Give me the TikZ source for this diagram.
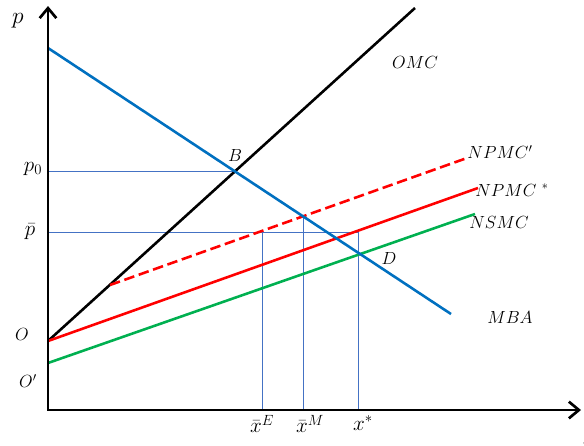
\RequirePackage{fix-cm}
\documentclass[tikz,border=0pt]{standalone}
\usepackage{amsmath,amssymb}
\usetikzlibrary{arrows.meta}
\definecolor{mbablue}{RGB}{0,112,192}
\definecolor{smcgreen}{RGB}{0,176,80}
\definecolor{guide}{RGB}{68,114,196}

\begin{document}
\begin{tikzpicture}[
  x=0.03cm, y=-0.03cm,
  axis/.style={line width=2.3pt, {Straight Barb[length=3mm,width=5mm]}-{Straight Barb[length=3mm,width=5mm]}},
  curve/.style={line width=2.2pt},
  guideline/.style={guide, line width=0.6pt},
  lbl/.style={font=\fontsize{15}{17}\selectfont, inner sep=1pt},
  biglbl/.style={font=\fontsize{18}{20}\selectfont, inner sep=1pt}
]
\useasboundingbox (0,0) rectangle (584,446);

% key points
\coordinate (orig) at (48,410);
\coordinate (ytop) at (48,6);
\coordinate (xend) at (581,410);
\coordinate (O) at (48,341);
\coordinate (Op) at (48,363);
\coordinate (omcEnd) at (415,8);
\coordinate (mbaTop) at (48,48);
\coordinate (mbaEnd) at (451,314);
\coordinate (npmcEnd) at (478,188);
\coordinate (nsmcEnd) at (475,214);
\coordinate (dashStart) at (110,285);
\coordinate (dashEnd) at (467,158);
\coordinate (B) at (235,171);
\coordinate (xE) at (262,232);
\coordinate (xM) at (303,217);
\coordinate (xS) at (358,232);

% guide lines
\draw[guideline] (B -| orig) -- (B);
\draw[guideline] (xS -| orig) -- (xS);
\draw[guideline] (xE) -- (xE |- orig);
\draw[guideline] (xM) -- (xM |- orig);
\draw[guideline] (xS) -- (xS |- orig);

% curves
\draw[curve, black] (O) -- (omcEnd);
\draw[curve, red] (O) -- (npmcEnd);
\draw[curve, smcgreen] (Op) -- (nsmcEnd);
\draw[curve, red, dash pattern=on 9pt off 4pt] (dashStart) -- (dashEnd);
\draw[curve, mbablue] (mbaTop) -- (mbaEnd);

% axes
\draw[axis] (ytop) -- (orig) -- (xend);

% labels
\node[biglbl, font=\fontsize{20}{22}\selectfont] (plbl) at (18,21) {$p$};
\node[biglbl] (p0lbl) at (33,169) {$p_0$};
\node[biglbl] (pbarlbl) at (30,232) {$\bar{p}$};
\node[lbl] (Olbl) at (22,334) {$O$};
\node[lbl] (Oplbl) at (28,381) {$O'$};
\node[lbl] (Blbl) at (235,155) {$B$};
\node[lbl] (Dlbl) at (389,258) {$D$};
\node[lbl] (omclbl) at (415,62) {$OMC$};
\node[lbl] (npmcplbl) at (500,152) {$NPMC'$};
\node[lbl] (npmcslbl) at (512,190) {$NPMC^{\;\,*}$};
\node[lbl] (nsmclbl) at (499,222) {$NSMC$};
\node[lbl] (mbalbl) at (510,317) {$MBA$};
\node[biglbl] (xElbl) at (262,424) {$\bar{x}^{E}$};
\node[biglbl] (xMlbl) at (310,424) {$\bar{x}^{M}$};
\node[biglbl] (xSlbl) at (363,423) {$x^{*}$};
\node[biglbl] (xlbl) at (589,440) {$x$};
\end{tikzpicture}
\end{document}
